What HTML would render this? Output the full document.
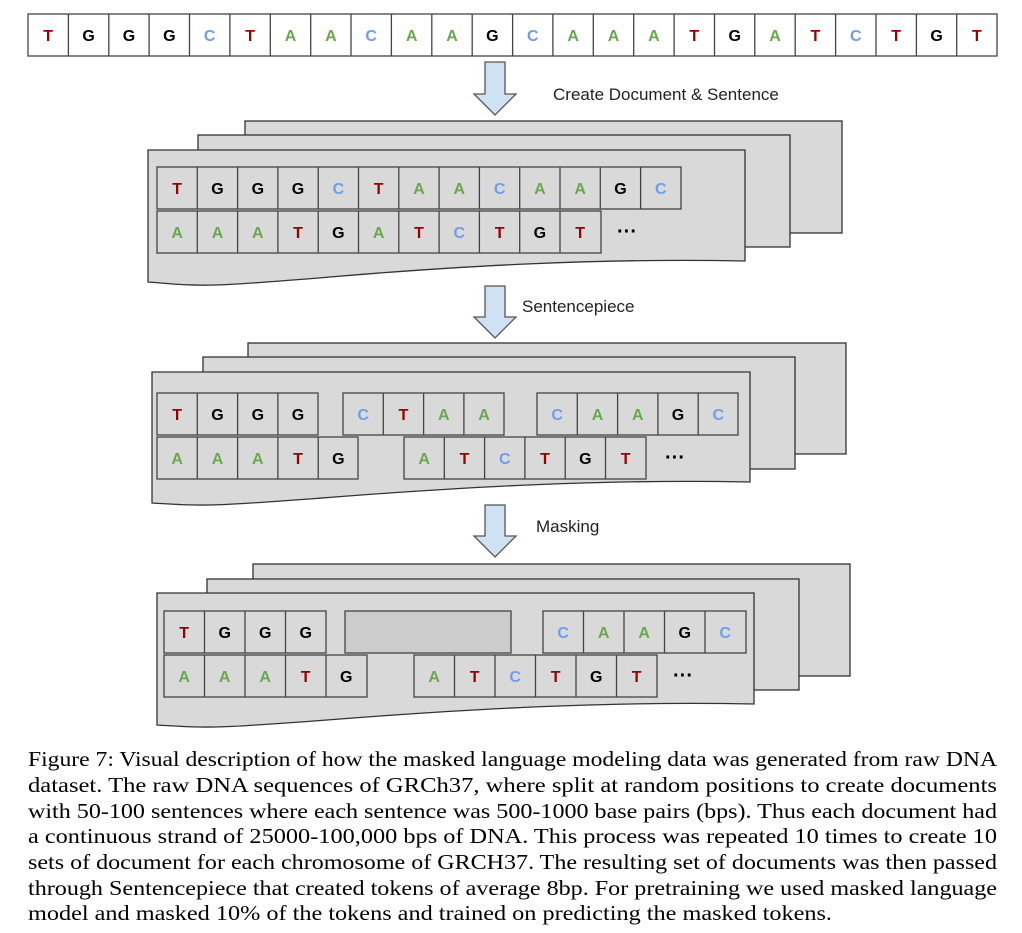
<!DOCTYPE html>
<html><head><meta charset="utf-8"><style>
html,body{margin:0;padding:0;background:#fff;width:1022px;height:933px;overflow:hidden}
svg{display:block}
.l{font-family:"Liberation Sans",Arial,sans-serif;font-size:16px;font-weight:bold;text-anchor:middle}
.T{fill:#990000}.G{fill:#000}.C{fill:#6d9eeb}.A{fill:#6aa84f}
.lab{font-family:"Liberation Sans",Arial,sans-serif;font-size:17px;fill:#222}
.cap{font-family:"Liberation Serif","Times New Roman",serif;font-size:21px;fill:#000}
.pg{fill:#d9d9d9;stroke:#333;stroke-width:1.3}
.c{fill:none;stroke:#444;stroke-width:1.3}
.arr{fill:#cfe2f3;stroke:#555;stroke-width:1.3}
</style></head><body>
<svg width="1022" height="933" viewBox="0 0 1022 933" xmlns="http://www.w3.org/2000/svg">
<!-- top strip -->
<g>
<rect x="28" y="14" width="969" height="42" fill="#fff" stroke="#444" stroke-width="1.3"/>
<path class="c" d="M68.4,14V56M108.8,14V56M149.1,14V56M189.5,14V56M229.9,14V56M270.3,14V56M310.7,14V56M351,14V56M391.4,14V56M431.8,14V56M472.2,14V56M512.6,14V56M552.9,14V56M593.3,14V56M633.7,14V56M674.1,14V56M714.5,14V56M754.8,14V56M795.2,14V56M835.6,14V56M876,14V56M916.4,14V56M956.7,14V56"/>
<text class="l T" x="48.2" y="41">T</text><text class="l G" x="88.6" y="41">G</text><text class="l G" x="129" y="41">G</text><text class="l G" x="169.3" y="41">G</text><text class="l C" x="209.7" y="41">C</text><text class="l T" x="250.1" y="41">T</text><text class="l A" x="290.5" y="41">A</text><text class="l A" x="330.9" y="41">A</text><text class="l C" x="371.2" y="41">C</text><text class="l A" x="411.6" y="41">A</text><text class="l A" x="452" y="41">A</text><text class="l G" x="492.4" y="41">G</text><text class="l C" x="532.8" y="41">C</text><text class="l A" x="573.1" y="41">A</text><text class="l A" x="613.5" y="41">A</text><text class="l A" x="653.9" y="41">A</text><text class="l T" x="694.3" y="41">T</text><text class="l G" x="734.7" y="41">G</text><text class="l A" x="775" y="41">A</text><text class="l T" x="815.4" y="41">T</text><text class="l C" x="855.8" y="41">C</text><text class="l T" x="896.2" y="41">T</text><text class="l G" x="936.6" y="41">G</text><text class="l T" x="976.9" y="41">T</text>
</g>

<!-- arrows -->
<path class="arr" d="M485,62H505V94H516L495,115L474,94H485Z"/>
<text class="lab" x="553" y="100">Create Document &amp; Sentence</text>
<path class="arr" d="M485,286H505V317H516L495,338L474,317H485Z"/>
<text class="lab" x="522" y="312">Sentencepiece</text>
<path class="arr" d="M485,505H505V536H516L495,557L474,536H485Z"/>
<text class="lab" x="536" y="532">Masking</text>

<!-- stack 1 -->
<rect class="pg" x="245" y="121" width="597" height="112"/>
<rect class="pg" x="198" y="135" width="592" height="112"/>
<path class="pg" d="M148,150H745V261C600,258 460,266 330,277S200,286 148,282Z"/>
<rect x="157" y="167" width="524" height="42" fill="none" stroke="#444" stroke-width="1.3"/>
<path class="c" d="M197.3,167V209M237.6,167V209M277.9,167V209M318.2,167V209M358.5,167V209M398.8,167V209M439.1,167V209M479.4,167V209M519.7,167V209M560,167V209M600.3,167V209M640.6,167V209"/>
<text class="l T" x="177.2" y="194">T</text><text class="l G" x="217.5" y="194">G</text><text class="l G" x="257.8" y="194">G</text><text class="l G" x="298" y="194">G</text><text class="l C" x="338.4" y="194">C</text><text class="l T" x="378.7" y="194">T</text><text class="l A" x="419" y="194">A</text><text class="l A" x="459.3" y="194">A</text><text class="l C" x="499.6" y="194">C</text><text class="l A" x="539.9" y="194">A</text><text class="l A" x="580.2" y="194">A</text><text class="l G" x="620.5" y="194">G</text><text class="l C" x="660.8" y="194">C</text>
<rect x="157" y="211" width="444" height="42" fill="none" stroke="#444" stroke-width="1.3"/>
<path class="c" d="M197.3,211V253M237.6,211V253M277.9,211V253M318.2,211V253M358.5,211V253M398.8,211V253M439.1,211V253M479.4,211V253M519.7,211V253M560,211V253"/>
<text class="l A" x="177.2" y="238">A</text><text class="l A" x="217.5" y="238">A</text><text class="l A" x="257.8" y="238">A</text><text class="l T" x="298" y="238">T</text><text class="l G" x="338.4" y="238">G</text><text class="l A" x="378.7" y="238">A</text><text class="l T" x="419" y="238">T</text><text class="l C" x="459.3" y="238">C</text><text class="l T" x="499.6" y="238">T</text><text class="l G" x="539.9" y="238">G</text><text class="l T" x="580.2" y="238">T</text>
<text class="l G" x="627" y="238" style="font-size:20px">···</text>

<!-- stack 2 -->
<rect class="pg" x="248" y="343" width="598" height="111"/>
<rect class="pg" x="203" y="357" width="592" height="112"/>
<path class="pg" d="M152,372H750V482C605,479 465,487 335,497S205,506 152,503Z"/>
<g fill="none" stroke="#444" stroke-width="1.3">
<rect x="157" y="393" width="161" height="42"/><rect x="343" y="393" width="161" height="42"/><rect x="537" y="393" width="201" height="42"/>
<rect x="157" y="437" width="201" height="42"/><rect x="404" y="437" width="242" height="42"/>
<path d="M197.3,393V435M237.6,393V435M277.9,393V435M383.3,393V435M423.6,393V435M463.9,393V435M577.3,393V435M617.6,393V435M657.9,393V435M698.2,393V435M197.3,437V479M237.6,437V479M277.9,437V479M318.2,437V479M444.3,437V479M484.6,437V479M524.9,437V479M565.2,437V479M605.5,437V479"/>
</g>
<text class="l T" x="177.2" y="420">T</text><text class="l G" x="217.5" y="420">G</text><text class="l G" x="257.8" y="420">G</text><text class="l G" x="298" y="420">G</text>
<text class="l C" x="363.2" y="420">C</text><text class="l T" x="403.5" y="420">T</text><text class="l A" x="443.8" y="420">A</text><text class="l A" x="484" y="420">A</text>
<text class="l C" x="557.2" y="420">C</text><text class="l A" x="597.5" y="420">A</text><text class="l A" x="637.8" y="420">A</text><text class="l G" x="678" y="420">G</text><text class="l C" x="718.3" y="420">C</text>
<text class="l A" x="177.2" y="464">A</text><text class="l A" x="217.5" y="464">A</text><text class="l A" x="257.8" y="464">A</text><text class="l T" x="298" y="464">T</text><text class="l G" x="338.4" y="464">G</text>
<text class="l A" x="424.2" y="464">A</text><text class="l T" x="464.5" y="464">T</text><text class="l C" x="504.8" y="464">C</text><text class="l T" x="545" y="464">T</text><text class="l G" x="585.4" y="464">G</text><text class="l T" x="625.7" y="464">T</text>
<text class="l G" x="675" y="464" style="font-size:20px">···</text>

<!-- stack 3 -->
<rect class="pg" x="253" y="564" width="597" height="112"/>
<rect class="pg" x="207" y="579" width="592" height="111"/>
<path class="pg" d="M157,593H754V704C610,701 470,709 340,719S210,728 157,725Z"/>
<rect x="345" y="611" width="166" height="42" fill="#cccccc" stroke="#444" stroke-width="1.3"/>
<g fill="none" stroke="#444" stroke-width="1.3">
<rect x="164" y="611" width="162" height="42"/><rect x="543" y="611" width="203" height="42"/>
<rect x="164" y="655" width="203" height="42"/><rect x="414" y="655" width="243" height="42"/>
<path d="M204.5,611V653M245,611V653M285.5,611V653M583.5,611V653M624,611V653M664.5,611V653M705,611V653M204.5,655V697M245,655V697M285.5,655V697M326,655V697M454.5,655V697M495,655V697M535.5,655V697M576,655V697M616.5,655V697"/>
</g>
<text class="l T" x="184.2" y="638">T</text><text class="l G" x="224.7" y="638">G</text><text class="l G" x="265.2" y="638">G</text><text class="l G" x="305.7" y="638">G</text>
<text class="l C" x="563.2" y="638">C</text><text class="l A" x="603.7" y="638">A</text><text class="l A" x="644.2" y="638">A</text><text class="l G" x="684.7" y="638">G</text><text class="l C" x="725.2" y="638">C</text>
<text class="l A" x="184.2" y="682">A</text><text class="l A" x="224.7" y="682">A</text><text class="l A" x="265.2" y="682">A</text><text class="l T" x="305.7" y="682">T</text><text class="l G" x="346.2" y="682">G</text>
<text class="l A" x="434.2" y="682">A</text><text class="l T" x="474.7" y="682">T</text><text class="l C" x="515.2" y="682">C</text><text class="l T" x="555.7" y="682">T</text><text class="l G" x="596.2" y="682">G</text><text class="l T" x="636.7" y="682">T</text>
<text class="l G" x="683" y="682" style="font-size:20px">···</text>

<!-- caption -->
<text class="cap" x="28" y="766" textLength="969" lengthAdjust="spacingAndGlyphs">Figure 7: Visual description of how the masked language modeling data was generated from raw DNA</text>
<text class="cap" x="28" y="792" textLength="969" lengthAdjust="spacingAndGlyphs">dataset. The raw DNA sequences of GRCh37, where split at random positions to create documents</text>
<text class="cap" x="28" y="818" textLength="969" lengthAdjust="spacingAndGlyphs">with 50-100 sentences where each sentence was 500-1000 base pairs (bps). Thus each document had</text>
<text class="cap" x="28" y="843" textLength="969" lengthAdjust="spacingAndGlyphs">a continuous strand of 25000-100,000 bps of DNA. This process was repeated 10 times to create 10</text>
<text class="cap" x="28" y="869" textLength="969" lengthAdjust="spacingAndGlyphs">sets of document for each chromosome of GRCH37. The resulting set of documents was then passed</text>
<text class="cap" x="28" y="895" textLength="969" lengthAdjust="spacingAndGlyphs">through Sentencepiece that created tokens of average 8bp. For pretraining we used masked language</text>
<text class="cap" x="28" y="920" textLength="804" lengthAdjust="spacingAndGlyphs">model and masked 10% of the tokens and trained on predicting the masked tokens.</text>
</svg>
</body></html>
